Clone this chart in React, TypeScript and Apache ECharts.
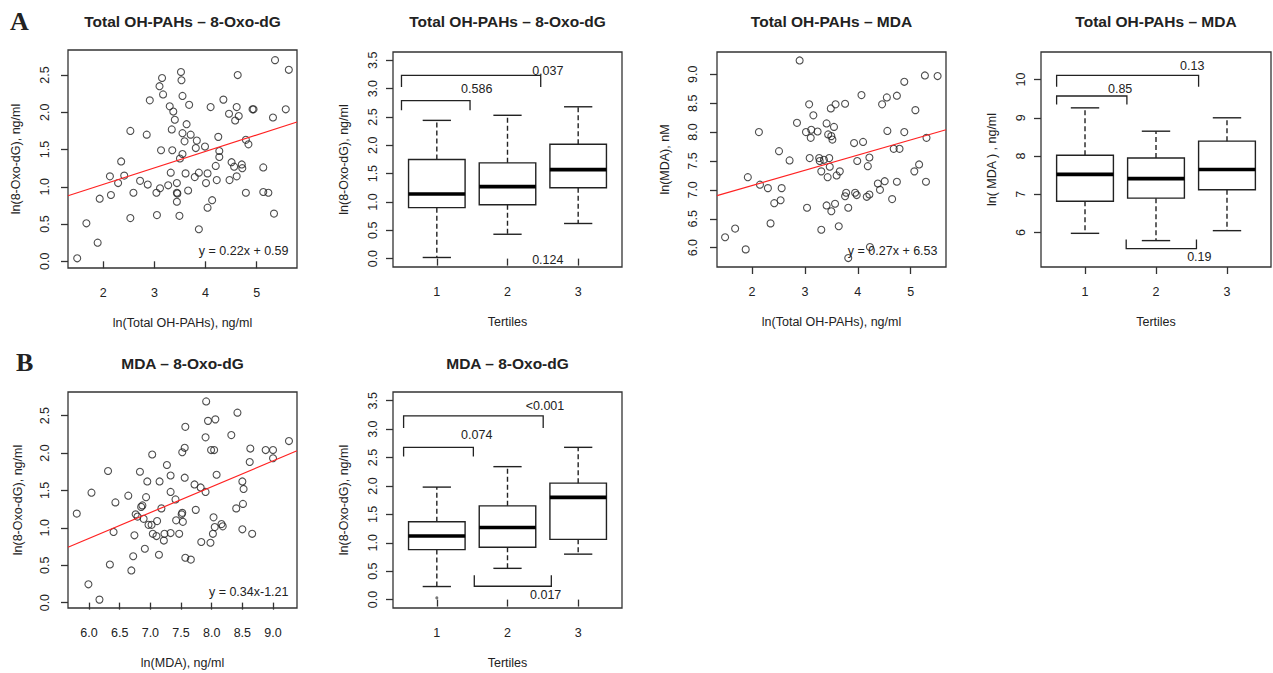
import React, { useEffect, useRef } from 'react';
import * as echarts from 'echarts';

const FONT = '"Liberation Sans", Arial, Helvetica, sans-serif';
const INK = '#222';

// ---------- Panel A1: Total OH-PAHs vs 8-Oxo-dG (scatter) ----------
const pahOxoPoints: [number, number][] = [
  [1.49, 0.04], [1.67, 0.51], [1.89, 0.25], [1.93, 0.84], [2.13, 1.14], [2.15, 0.89], [2.29, 1.05],
  [2.35, 1.34], [2.41, 1.15], [2.53, 1.75], [2.53, 0.58], [2.59, 0.92], [2.72, 1.08], [2.85, 1.70],
  [2.87, 1.03], [2.91, 2.16], [3.04, 0.92], [3.05, 0.62], [3.11, 0.98], [3.13, 1.49], [3.10, 2.35],
  [3.15, 2.46], [3.17, 2.24], [3.27, 1.02], [3.30, 2.08], [3.32, 1.19], [3.34, 1.77], [3.35, 1.49],
  [3.37, 2.01], [3.40, 1.90], [3.44, 1.05], [3.44, 0.92], [3.45, 0.91], [3.44, 0.80], [3.49, 0.61],
  [3.50, 1.38], [3.52, 2.54], [3.53, 2.43], [3.55, 1.44], [3.55, 2.22], [3.55, 1.72], [3.59, 1.61],
  [3.61, 1.18], [3.63, 1.84], [3.66, 0.95], [3.68, 2.10], [3.71, 1.70], [3.79, 1.13], [3.81, 1.52],
  [3.83, 1.62], [3.87, 0.43], [3.87, 1.19], [3.99, 1.54], [4.01, 1.05], [4.04, 1.18], [4.04, 0.72],
  [4.10, 2.07], [4.13, 0.82], [4.20, 1.28], [4.22, 1.09], [4.25, 1.67], [4.27, 1.48], [4.27, 1.40],
  [4.35, 2.17], [4.46, 1.98], [4.47, 1.09], [4.51, 1.33], [4.56, 1.27], [4.58, 1.89], [4.61, 2.07],
  [4.61, 1.14], [4.63, 2.50], [4.65, 1.95], [4.71, 1.30], [4.72, 1.25], [4.79, 0.92], [4.79, 1.63],
  [4.84, 1.57], [4.92, 2.04], [4.94, 2.04], [5.13, 1.26], [5.13, 0.93], [5.23, 0.92], [5.32, 1.93],
  [5.34, 0.64], [5.36, 2.70], [5.57, 2.04], [5.63, 2.57],
];
const pahOxoFit: [number, number][] = [[1.31, 0.88], [5.79, 1.87]];
const pahOxoEquation = 'y = 0.22x + 0.59';

// ---------- Panel A2: 8-Oxo-dG by OH-PAH tertiles (box) ----------
const tertiles = [1, 2, 3];
// [min, Q1, median, Q3, max]
const pahOxoBox = [
  [0.02, 0.90, 1.14, 1.75, 2.44],
  [0.43, 0.95, 1.27, 1.69, 2.53],
  [0.62, 1.25, 1.57, 2.02, 2.68],
];
// [x1, x2, bar level, leg end]
const pahOxoBrackets = [
  [0.5, 2.47, 3.235, 3.03],
  [0.5, 1.47, 2.79, 2.62],
];
const pahOxoPValues = ['0.037', '0.586', '0.124'];
const pahOxoPPos: [number, number][] = [[2.57, 3.305], [1.565, 3.0], [2.57, -0.03]];

// ---------- Panel A3: Total OH-PAHs vs MDA (scatter) ----------
const pahMdaPoints: [number, number][] = [
  [1.49, 6.18], [1.68, 6.33], [1.88, 5.97], [1.92, 7.22], [2.13, 8.00], [2.15, 7.09], [2.30, 7.03],
  [2.35, 6.42], [2.42, 6.77], [2.51, 7.67], [2.54, 6.82], [2.56, 7.03], [2.71, 7.51], [2.85, 8.16],
  [2.90, 9.24], [3.02, 8.00], [3.04, 6.69], [3.08, 8.48], [3.09, 7.55], [3.11, 7.90], [3.12, 8.04],
  [3.16, 8.29], [3.24, 8.01], [3.27, 7.55], [3.28, 7.50], [3.31, 7.32], [3.31, 6.31], [3.36, 7.52],
  [3.41, 8.15], [3.41, 6.73], [3.43, 7.22], [3.44, 7.96], [3.46, 7.55], [3.47, 7.40], [3.49, 8.41],
  [3.50, 6.63], [3.50, 7.93], [3.52, 7.87], [3.55, 8.09], [3.57, 6.76], [3.58, 8.48], [3.60, 7.25],
  [3.64, 6.37], [3.66, 7.32], [3.76, 8.49], [3.76, 6.89], [3.78, 6.95], [3.82, 6.69], [3.82, 5.82],
  [3.93, 7.81], [3.95, 6.95], [3.98, 6.91], [3.99, 7.50], [4.07, 8.64], [4.10, 7.83], [4.17, 6.88],
  [4.19, 7.41], [4.22, 7.56], [4.22, 6.92], [4.23, 6.01], [4.38, 7.11], [4.42, 7.00], [4.46, 8.48],
  [4.51, 7.15], [4.55, 8.60], [4.56, 8.02], [4.65, 6.84], [4.68, 7.71], [4.74, 7.14], [4.74, 8.63],
  [4.79, 7.71], [4.88, 8.87], [4.88, 8.00], [5.07, 7.32], [5.09, 8.38], [5.16, 7.44], [5.27, 8.98],
  [5.29, 7.14], [5.30, 7.90], [5.51, 8.97],
];
const pahMdaFit: [number, number][] = [[1.337, 6.9], [5.669, 8.04]];
const pahMdaEquation = 'y = 0.27x + 6.53';

// ---------- Panel A4: MDA by OH-PAH tertiles (box) ----------
const pahMdaBox = [
  [5.98, 6.82, 7.52, 8.02, 9.26],
  [5.79, 6.90, 7.41, 7.95, 8.65],
  [6.05, 7.12, 7.65, 8.39, 9.00],
];
const pahMdaBrackets = [
  [0.6, 2.6, 10.11, 9.81],
  [0.6, 1.59, 9.57, 9.35],
  [1.58, 2.57, 5.58, 5.82],
];
const pahMdaPValues = ['0.13', '0.85', '0.19'];
const pahMdaPPos: [number, number][] = [[2.51, 10.35], [1.495, 9.74], [2.61, 5.35]];

// ---------- Panel B1: MDA vs 8-Oxo-dG (scatter) ----------
const mdaOxoPoints: [number, number][] = [
  [5.80, 1.19], [5.99, 0.245], [6.04, 1.47], [6.17, 0.04], [6.31, 1.76], [6.34, 0.51], [6.40, 0.945],
  [6.43, 1.34], [6.64, 1.43], [6.69, 0.43], [6.72, 0.62], [6.74, 0.90], [6.76, 1.18], [6.79, 1.15],
  [6.83, 1.75], [6.85, 1.28], [6.87, 1.30], [6.89, 1.12], [6.91, 0.72], [6.93, 1.41], [6.95, 1.62],
  [6.97, 1.04], [7.02, 1.04], [7.03, 1.98], [7.04, 0.92], [7.10, 0.89], [7.11, 1.09], [7.14, 0.64],
  [7.15, 1.62], [7.18, 1.26], [7.22, 0.83], [7.23, 0.92], [7.27, 1.84], [7.33, 1.70], [7.33, 1.48],
  [7.33, 0.93], [7.41, 1.38], [7.42, 1.10], [7.47, 0.92], [7.51, 1.18], [7.52, 1.20], [7.52, 2.01],
  [7.53, 1.08], [7.56, 2.07], [7.56, 1.67], [7.57, 0.60], [7.57, 2.35], [7.66, 0.575], [7.74, 1.24],
  [7.72, 1.58], [7.83, 0.81], [7.82, 1.54], [7.90, 2.21], [7.91, 2.69], [7.90, 1.48], [7.94, 2.43],
  [7.98, 0.80], [7.99, 2.04], [8.02, 0.92], [8.03, 1.14], [8.04, 2.04], [8.06, 2.45], [8.05, 1.01],
  [8.08, 1.71], [8.16, 1.05], [8.18, 1.02], [8.32, 2.24], [8.40, 1.26], [8.42, 2.54], [8.50, 1.62],
  [8.50, 0.98], [8.51, 1.32], [8.52, 1.52], [8.63, 2.06], [8.62, 1.88], [8.66, 0.92], [8.88, 2.04],
  [9.00, 2.04], [9.00, 1.93], [9.26, 2.16],
];
const mdaOxoFit: [number, number][] = [[5.657, 0.74], [9.391, 2.03]];
const mdaOxoEquation = 'y = 0.34x-1.21';

// ---------- Panel B2: 8-Oxo-dG by MDA tertiles (box) ----------
const mdaOxoBox = [
  [0.23, 0.88, 1.12, 1.37, 1.98],
  [0.55, 0.92, 1.27, 1.65, 2.34],
  [0.80, 1.06, 1.80, 2.05, 2.68],
];
const mdaOxoOutliers: [number, number][] = [[1, 0.03]];
const mdaOxoBrackets = [
  [0.53, 2.505, 3.235, 3.02],
  [0.53, 1.517, 2.68, 2.52],
  [1.53, 2.62, 0.235, 0.43],
];
const mdaOxoPValues = ['<0.001', '0.074', '0.017'];
const mdaOxoPPos: [number, number][] = [[2.53, 3.40], [1.565, 2.89], [2.54, 0.076]];

// ---------- Tick labels ----------
const pahTicks = [2, 3, 4, 5];
const oxoScatterTicks = [0, 0.5, 1.0, 1.5, 2.0, 2.5];
const oxoBoxTicks = [0, 0.5, 1.0, 1.5, 2.0, 2.5, 3.0, 3.5];
const mdaScatterTicks = [6.0, 6.5, 7.0, 7.5, 8.0, 8.5, 9.0];
const mdaBoxTicks = [6, 7, 8, 9, 10];
const mdaXTicks = [6.0, 6.5, 7.0, 7.5, 8.0, 8.5, 9.0];

type Panel = {
  grid: { left: number; top: number; width: number; height: number };
  x: { min: number; max: number; ticks: number[]; dec: number; name: string };
  y: { min: number; max: number; ticks: number[]; dec: number; name: string };
  yLabelMargin: number;
  yNameGap: number;
};

const panels: Panel[] = [
  {
    grid: { left: 68, top: 50, width: 229, height: 218 },
    x: { min: 1.31, max: 5.79, ticks: pahTicks, dec: 0, name: 'ln(Total OH-PAHs), ng/ml' },
    y: { min: -0.09, max: 2.836, ticks: oxoScatterTicks, dec: 1, name: 'ln(8-Oxo-dG), ng/ml' },
    yLabelMargin: 17, yNameGap: 46,
  },
  {
    grid: { left: 393, top: 52, width: 229, height: 215 },
    x: { min: 0.38, max: 3.62, ticks: tertiles, dec: 0, name: 'Tertiles' },
    y: { min: -0.148, max: 3.647, ticks: oxoBoxTicks, dec: 1, name: 'ln(8-Oxo-dG), ng/ml' },
    yLabelMargin: 14, yNameGap: 43,
  },
  {
    grid: { left: 717, top: 52, width: 229, height: 215 },
    x: { min: 1.337, max: 5.669, ticks: pahTicks, dec: 0, name: 'ln(Total OH-PAHs), ng/ml' },
    y: { min: 5.665, max: 9.386, ticks: mdaScatterTicks, dec: 1, name: 'ln(MDA), nM' },
    yLabelMargin: 18, yNameGap: 46,
  },
  {
    grid: { left: 1041, top: 52, width: 230, height: 215 },
    x: { min: 0.38, max: 3.62, ticks: tertiles, dec: 0, name: 'Tertiles' },
    y: { min: 5.1, max: 10.72, ticks: mdaBoxTicks, dec: 0, name: 'ln( MDA ) , ng/ml' },
    yLabelMargin: 14, yNameGap: 43,
  },
  {
    grid: { left: 68, top: 392, width: 229, height: 216 },
    x: { min: 5.657, max: 9.391, ticks: mdaXTicks, dec: 1, name: 'ln(MDA), ng/ml' },
    y: { min: -0.072, max: 2.816, ticks: oxoScatterTicks, dec: 1, name: 'ln(8-Oxo-dG), ng/ml' },
    yLabelMargin: 17, yNameGap: 44,
  },
  {
    grid: { left: 393, top: 392, width: 229, height: 216 },
    x: { min: 0.38, max: 3.62, ticks: tertiles, dec: 0, name: 'Tertiles' },
    y: { min: -0.148, max: 3.654, ticks: oxoBoxTicks, dec: 1, name: 'ln(8-Oxo-dG), ng/ml' },
    yLabelMargin: 14, yNameGap: 43,
  },
];

const titles: { text: string; x: number; y: number }[] = [
  { text: 'Total OH-PAHs – 8-Oxo-dG', x: 182.5, y: 21.7 },
  { text: 'Total OH-PAHs – 8-Oxo-dG', x: 507.5, y: 21.7 },
  { text: 'Total OH-PAHs – MDA', x: 831.5, y: 21.7 },
  { text: 'Total OH-PAHs – MDA', x: 1156, y: 21.7 },
  { text: 'MDA – 8-Oxo-dG', x: 182.5, y: 363.3 },
  { text: 'MDA – 8-Oxo-dG', x: 507.5, y: 363.3 },
];

function textEl(text: string, x: number, y: number, font: string, align: string, vAlign = 'middle') {
  return {
    type: 'text',
    x,
    y,
    silent: true,
    style: {
      text,
      font,
      fill: INK,
      align,
      verticalAlign: vAlign,
      textAlign: align,
      textVerticalAlign: vAlign,
    },
  };
}

function boxRender(params: any, api: any) {
  const x = api.value(0);
  const lo = api.value(1), q1 = api.value(2), med = api.value(3), q3 = api.value(4), hi = api.value(5);
  const half = api.size([0.4, 0])[0];
  const cap = api.size([0.2, 0])[0];
  const c = api.coord([x, lo])[0];
  const py = (v: number) => api.coord([x, v])[1];
  const thin = { stroke: INK, lineWidth: 1.4, fill: 'none' };
  const dash = { stroke: INK, lineWidth: 1.4, lineDash: [5, 3] };
  return {
    type: 'group',
    children: [
      { type: 'line', shape: { x1: c, y1: py(q3), x2: c, y2: py(hi) }, style: dash },
      { type: 'line', shape: { x1: c, y1: py(q1), x2: c, y2: py(lo) }, style: dash },
      { type: 'line', shape: { x1: c - cap, y1: py(hi), x2: c + cap, y2: py(hi) }, style: thin },
      { type: 'line', shape: { x1: c - cap, y1: py(lo), x2: c + cap, y2: py(lo) }, style: thin },
      { type: 'rect', shape: { x: c - half, y: py(q3), width: 2 * half, height: py(q1) - py(q3) }, style: thin },
      { type: 'line', shape: { x1: c - half, y1: py(med), x2: c + half, y2: py(med) }, style: { stroke: '#000', lineWidth: 3.6 } },
    ],
  };
}

function bracketRender(params: any, api: any) {
  const x1 = api.value(0), x2 = api.value(1), bar = api.value(2), leg = api.value(3);
  const pts = [api.coord([x1, leg]), api.coord([x1, bar]), api.coord([x2, bar]), api.coord([x2, leg])];
  return { type: 'polyline', shape: { points: pts }, style: { stroke: INK, fill: 'none', lineWidth: 1.3 } };
}

function makeTextRender(texts: string[]) {
  return (params: any, api: any) => {
    const p = api.coord([api.value(0), api.value(1)]);
    return {
      type: 'text',
      x: p[0],
      y: p[1],
      style: {
        text: texts[params.dataIndex],
        font: `12.5px ${FONT}`,
        fill: INK,
        align: 'center',
        verticalAlign: 'middle',
        textAlign: 'center',
        textVerticalAlign: 'middle',
      },
    };
  };
}

function fmt(dec: number) {
  return (v: number) => (dec === 0 ? String(Math.round(v)) : Number(v).toFixed(dec));
}

function buildOption() {
  const grids = panels.map((p) => ({
    ...p.grid,
    show: true,
    borderColor: '#333',
    borderWidth: 1.3,
    backgroundColor: 'transparent',
    containLabel: false,
    outerBoundsMode: 'none',
  }));

  const xAxes = panels.map((p, i) => ({
    type: 'value',
    gridIndex: i,
    min: p.x.min,
    max: p.x.max,
    name: p.x.name,
    nameLocation: 'middle',
    nameGap: 48,
    nameTextStyle: { fontFamily: FONT, fontSize: 12.5, color: INK },
    axisLine: { show: false },
    splitLine: { show: false },
    axisTick: { show: true, length: 7, customValues: p.x.ticks, lineStyle: { color: '#333', width: 1.3 } },
    axisLabel: {
      customValues: p.x.ticks,
      formatter: fmt(p.x.dec),
      margin: 18,
      fontFamily: FONT,
      fontSize: 12.5,
      color: INK,
      hideOverlap: false,
    },
  }));

  const yAxes = panels.map((p, i) => ({
    type: 'value',
    gridIndex: i,
    min: p.y.min,
    max: p.y.max,
    name: p.y.name,
    nameLocation: 'middle',
    nameGap: p.yNameGap,
    nameTextStyle: { fontFamily: FONT, fontSize: 12.5, color: INK },
    axisLine: { show: false },
    splitLine: { show: false },
    axisTick: { show: true, length: 7, customValues: p.y.ticks, lineStyle: { color: '#333', width: 1.3 } },
    axisLabel: {
      customValues: p.y.ticks,
      formatter: fmt(p.y.dec),
      rotate: 90,
      margin: p.yLabelMargin,
      fontFamily: FONT,
      fontSize: 12.5,
      color: INK,
      hideOverlap: false,
    },
  }));

  const scatterStyle = {
    type: 'scatter',
    symbol: 'circle',
    symbolSize: 7,
    itemStyle: { color: 'rgba(0,0,0,0)', borderColor: INK, borderWidth: 1.1 },
    silent: true,
  };
  const fitStyle = {
    type: 'line',
    showSymbol: false,
    symbol: 'none',
    lineStyle: { color: '#ff2222', width: 1.2 },
    silent: true,
  };

  const boxSeries = (idx: number, box: number[][]) => ({
    type: 'custom',
    xAxisIndex: idx,
    yAxisIndex: idx,
    silent: true,
    renderItem: boxRender,
    encode: { x: 0, y: [1, 2, 3, 4, 5] },
    data: box.map((b, k) => [tertiles[k], ...b]),
  });
  const bracketSeries = (idx: number, br: number[][]) => ({
    type: 'custom',
    xAxisIndex: idx,
    yAxisIndex: idx,
    silent: true,
    renderItem: bracketRender,
    encode: { x: [0, 1], y: [2, 3] },
    data: br,
  });
  const pSeries = (idx: number, pos: [number, number][], texts: string[]) => ({
    type: 'custom',
    xAxisIndex: idx,
    yAxisIndex: idx,
    silent: true,
    renderItem: makeTextRender(texts),
    encode: { x: 0, y: 1 },
    data: pos,
  });

  const series: any[] = [
    { ...scatterStyle, xAxisIndex: 0, yAxisIndex: 0, data: pahOxoPoints },
    { ...fitStyle, xAxisIndex: 0, yAxisIndex: 0, data: pahOxoFit },
    boxSeries(1, pahOxoBox),
    bracketSeries(1, pahOxoBrackets),
    pSeries(1, pahOxoPPos, pahOxoPValues),
    { ...scatterStyle, xAxisIndex: 2, yAxisIndex: 2, data: pahMdaPoints },
    { ...fitStyle, xAxisIndex: 2, yAxisIndex: 2, data: pahMdaFit },
    boxSeries(3, pahMdaBox),
    bracketSeries(3, pahMdaBrackets),
    pSeries(3, pahMdaPPos, pahMdaPValues),
    { ...scatterStyle, xAxisIndex: 4, yAxisIndex: 4, data: mdaOxoPoints },
    { ...fitStyle, xAxisIndex: 4, yAxisIndex: 4, data: mdaOxoFit },
    boxSeries(5, mdaOxoBox),
    {
      type: 'scatter',
      xAxisIndex: 5,
      yAxisIndex: 5,
      symbol: 'circle',
      symbolSize: 3,
      itemStyle: { color: '#555' },
      silent: true,
      data: mdaOxoOutliers,
    },
    bracketSeries(5, mdaOxoBrackets),
    pSeries(5, mdaOxoPPos, mdaOxoPValues),
  ];

  const graphic: any[] = [
    ...titles.map((t) => textEl(t.text, t.x, t.y, `bold 15.5px ${FONT}`, 'center')),
    textEl(pahOxoEquation, 288.5, 250.7, `12.5px ${FONT}`, 'right'),
    textEl(pahMdaEquation, 937.5, 250.7, `12.5px ${FONT}`, 'right'),
    textEl(mdaOxoEquation, 288.5, 591.7, `12.5px ${FONT}`, 'right'),
    textEl('A', 10, 21, `bold 26px "Liberation Serif", "Times New Roman", serif`, 'left'),
    textEl('B', 16, 362.8, `bold 26px "Liberation Serif", "Times New Roman", serif`, 'left'),
  ];

  return {
    animation: false,
    backgroundColor: '#ffffff',
    textStyle: { fontFamily: FONT },
    grid: grids,
    xAxis: xAxes,
    yAxis: yAxes,
    series,
    graphic,
  };
}

export default function App() {
  const ref = useRef<HTMLDivElement>(null);
  useEffect(() => {
    if (!ref.current) return;
    const chart = echarts.init(ref.current, null, { renderer: 'svg' });
    chart.setOption(buildOption() as any);
    return () => chart.dispose();
  }, []);
  return (
    <div
      ref={ref}
      style={{ position: 'fixed', left: 0, top: 0, width: 1273, height: 673, background: '#fff' }}
    />
  );
}
